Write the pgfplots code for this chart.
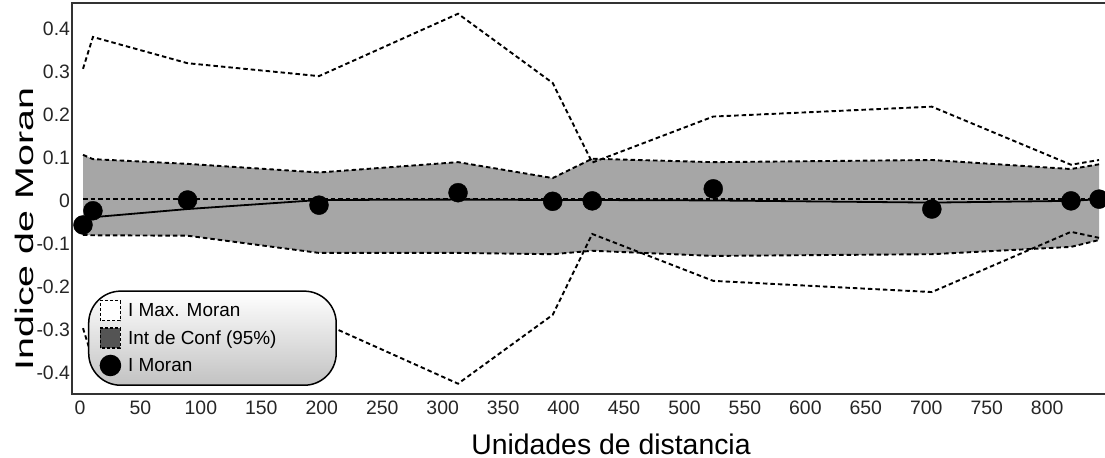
\documentclass[border=0pt]{standalone}
\usepackage{pgfplots}
\pgfplotsset{compat=1.18}
\usepackage{pgfplotstable}
\usepgfplotslibrary{fillbetween}
\usepackage{fontspec}
\setmainfont{Liberation Sans}
\usepackage{graphicx}

\definecolor{bandgray}{gray}{0.65}
\definecolor{framegray}{gray}{0.2}
\definecolor{legdark}{gray}{0.33}

\pgfplotstableread{
x      ub     lb      mu     ml      im
2.5    0.107  -0.079  0.307  -0.296  -0.056
10.7   0.097  -0.080  0.381  -0.370  -0.023
89     0.086  -0.081  0.320  -0.310   0.002
197.7  0.066  -0.121  0.290  -0.280  -0.010
312.7  0.090  -0.121  0.435  -0.425   0.019
391    0.053  -0.124  0.274  -0.265  -0.001
423.7  0.098  -0.116  0.089  -0.077   0.000
523.8  0.090  -0.128  0.196  -0.186   0.028
704.6  0.095  -0.124  0.219  -0.212  -0.019
819.7  0.074  -0.107  0.084  -0.072   0.000
842.9  0.085  -0.091  0.095  -0.086   0.004
}\moran

\pgfplotstableread{
x      y
10.7   -0.038
89     -0.019
197.7   0.002
312.7   0.003
391     0.002
423.7   0.002
523.8   0.001
704.6  -0.004
819.7   0.000
842.9   0.004
}\fit

\pgfplotstableread{
x      y
2.5    0.004
842.9  0.004
}\expected

\tikzset{mydash/.style={black, line width=1.9bp, dash pattern=on 4.5bp off 3bp}}

\begin{document}
\begin{tikzpicture}
\begin{axis}[
  at={(72bp,64bp)}, anchor=south west,
  scale only axis, width=1078bp, height=391bp,
  xmin=-6.6, xmax=885, ymin=-0.449, ymax=0.46,
  axis line style={framegray, line width=2.4bp},
  major tick length=0pt,
  xtick={0,50,100,150,200,250,300,350,400,450,500,550,600,650,700,750,800},
  xticklabels={0,50,100,150,200,250,300,350,400,450,500,550,600,650,700,750,800},
  ytick={-0.4,-0.3,-0.2,-0.1,0,0.1,0.2,0.3,0.4},
  yticklabels={-0.4,-0.3,-0.2,-0.1,0,0.1,0.2,0.3,0.4},
  ticklabel style={font=\fontsize{19.5}{21}\selectfont, text=black!85},
  xticklabel style={yshift=-3bp},
  yticklabel style={xshift=1.5bp},
  xlabel={Unidades de distancia},
  xlabel style={font=\fontsize{28.5}{30}\selectfont, at={(axis description cs:0.5,0)}, anchor=base, yshift=-60bp},
  legend style={at={(axis description cs:0.0148,0.0205)}, anchor=south west,
    draw=black, line width=1.5bp, rounded corners=32bp,
    top color=white, bottom color=black!24,
    font=\fontsize{19}{21}\selectfont, inner xsep=11bp, inner ysep=9bp, row sep=6bp},
  legend cell align=left,
]
\addplot[draw=none, name path=UB, forget plot] table[x=x, y=ub] {\moran};
\addplot[draw=none, name path=LB, forget plot] table[x=x, y=lb] {\moran};
\addplot[bandgray, draw=none, forget plot] fill between[of=UB and LB];
\addplot[mydash, forget plot] table[x=x, y=ub] {\moran};
\addplot[mydash, forget plot] table[x=x, y=lb] {\moran};
\addplot[mydash, forget plot] table[x=x, y=mu] {\moran};
\addplot[mydash, forget plot] table[x=x, y=ml] {\moran};
\addplot[mydash, forget plot] table[x=x, y=y] {\expected};
\addplot[black, line width=1.8bp, forget plot] table[x=x, y=y] {\fit};
\addplot[only marks, mark=*, mark size=9.5bp, black, forget plot] table[x=x, y=im] {\moran};

\addlegendimage{legend image code/.code={\draw[sharp corners, black, line width=1.3bp, dash pattern=on 3bp off 2bp, fill=white] (0bp,-10bp) rectangle (20bp,10bp);}}
\addlegendentry{\makebox[200bp][l]{\hspace{5bp}I Max. Moran}}
\addlegendimage{legend image code/.code={\draw[sharp corners, black, line width=1.3bp, dash pattern=on 3bp off 2bp, fill=legdark] (0bp,-10bp) rectangle (20bp,10bp);}}
\addlegendentry{\makebox[200bp][l]{\hspace{5bp}Int de Conf (95\%)}}
\addlegendimage{legend image code/.code={\fill[black] (10bp,0bp) circle (10bp);}}
\addlegendentry{\makebox[200bp][l]{\hspace{5bp}I Moran}}
\end{axis}
\node[rotate=90, anchor=base, font=\fontsize{25.5}{28}\selectfont] at (33bp,229bp) {\scalebox{1.55}[1]{Indice de Moran}};
\pgfresetboundingbox
\useasboundingbox (0,0) rectangle (1105bp,458bp);
\end{tikzpicture}
\end{document}
